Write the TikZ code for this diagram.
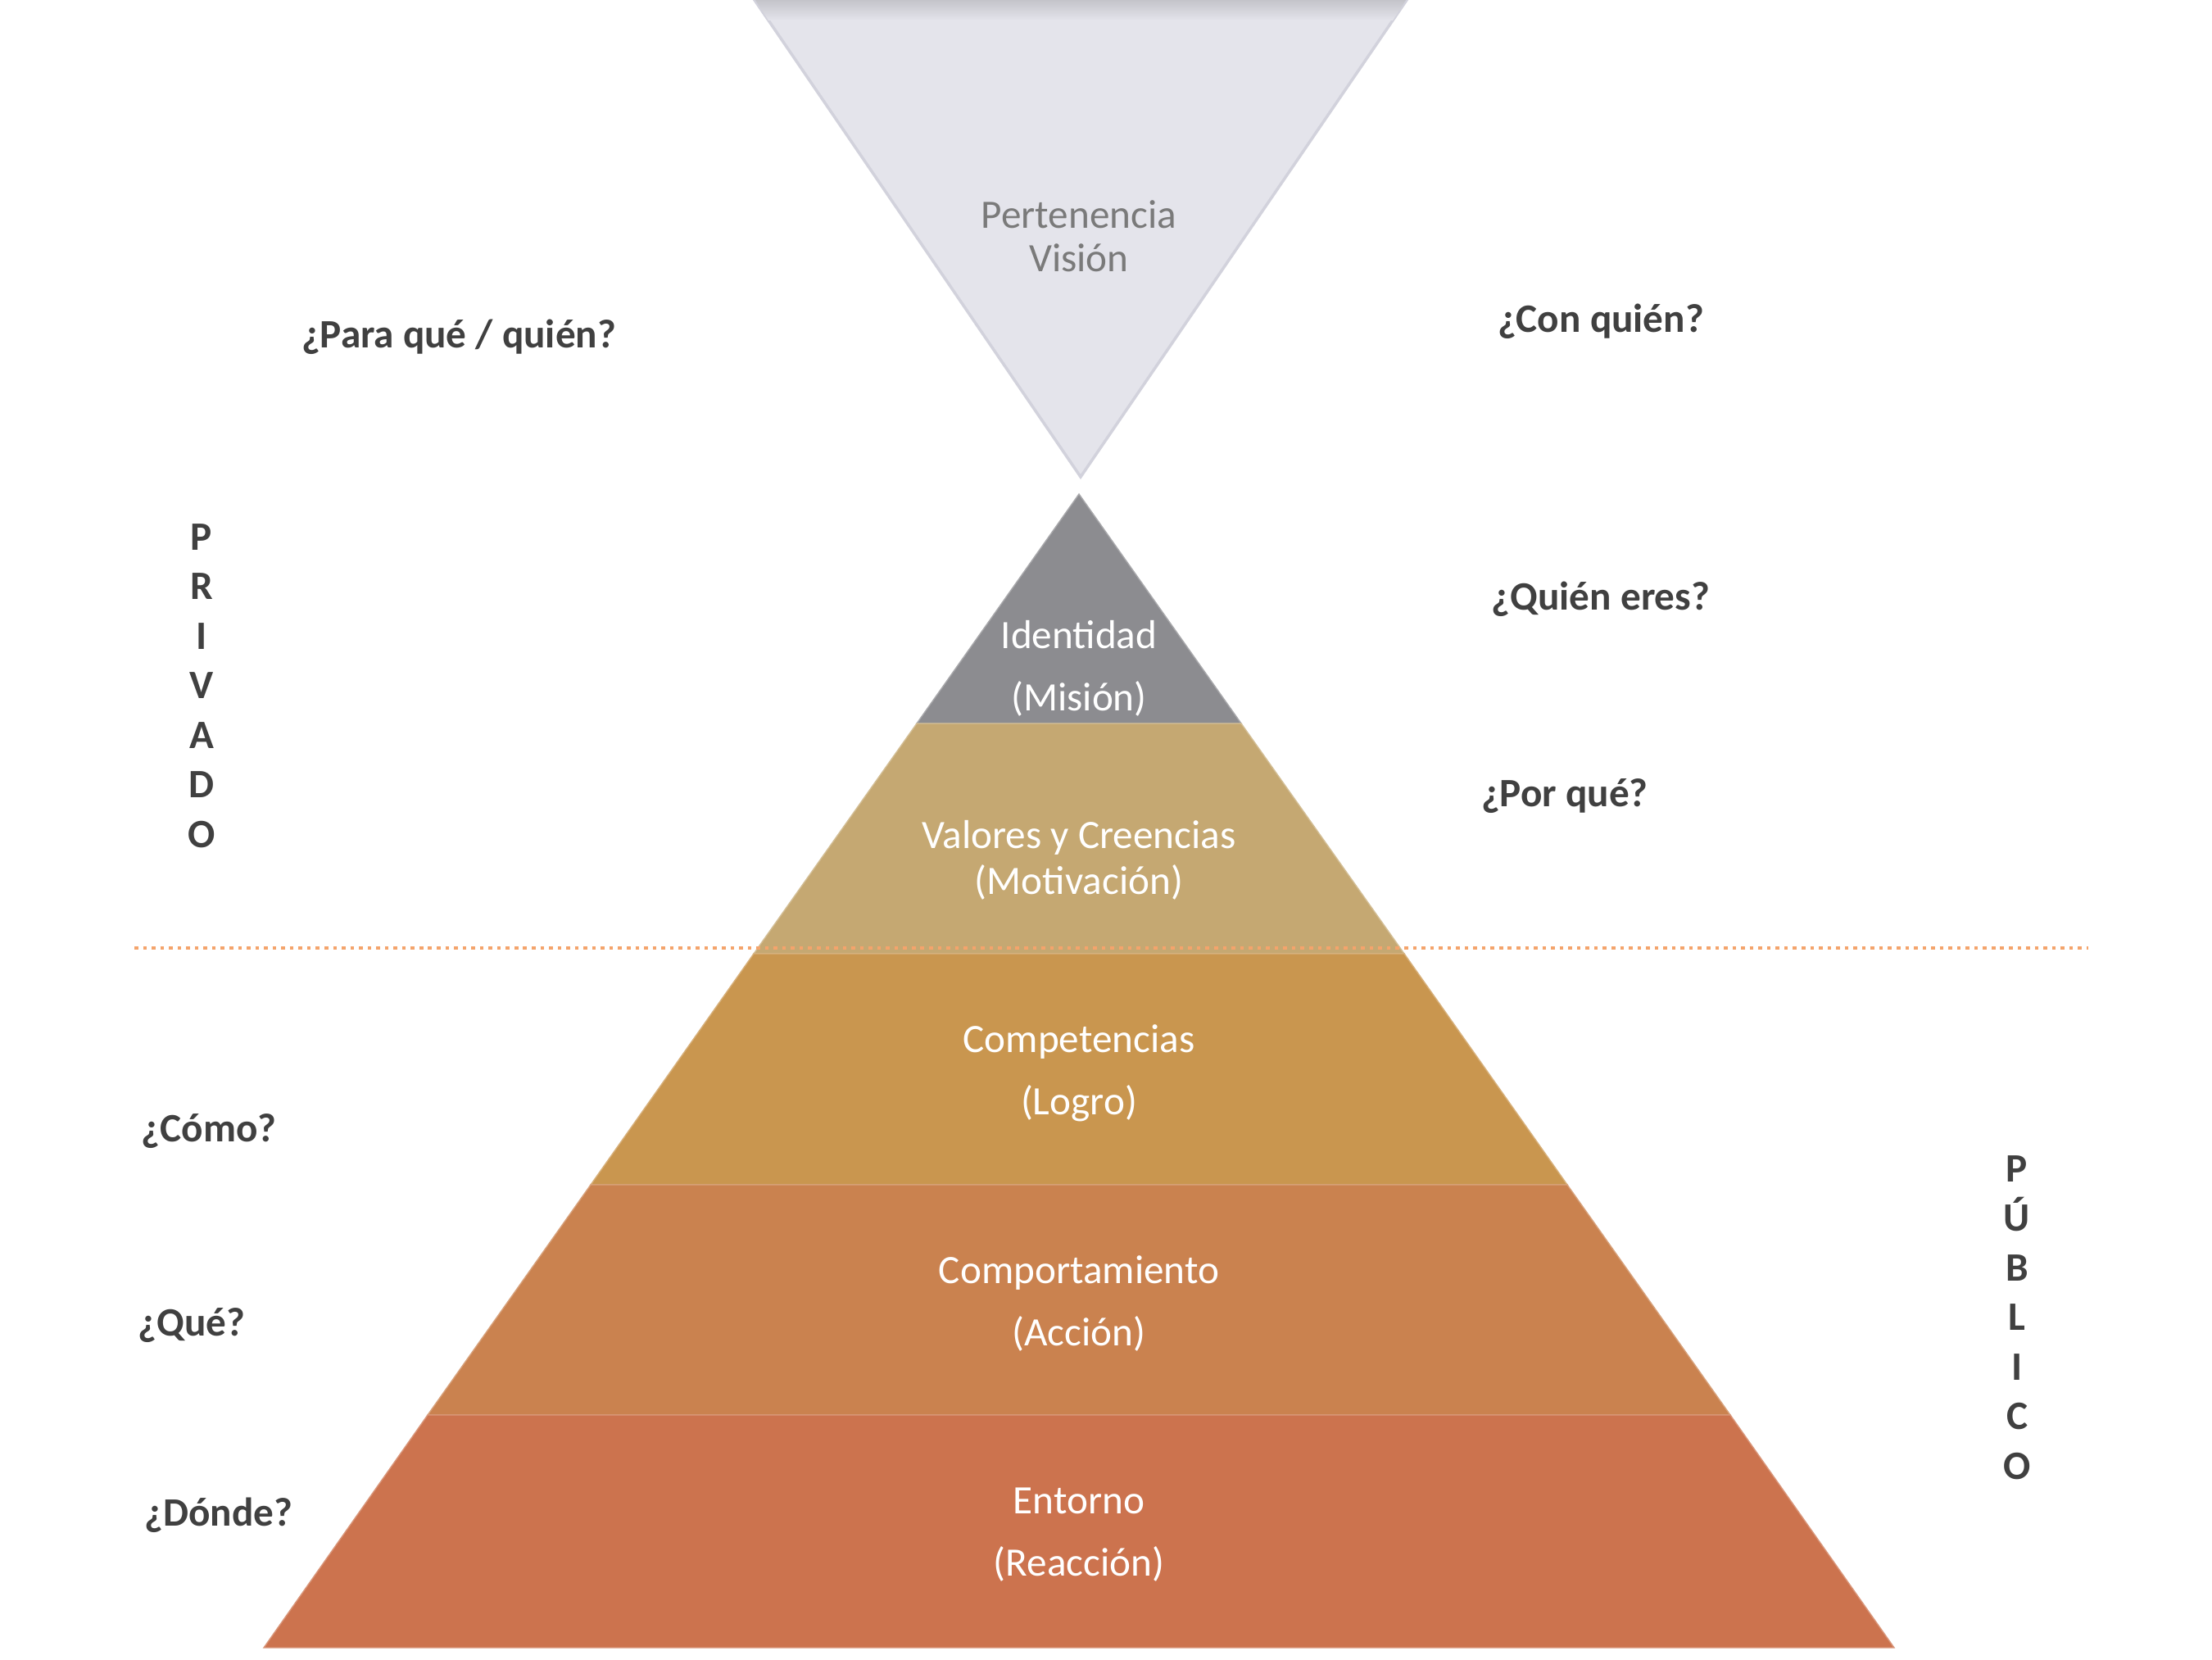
\documentclass[tikz,border=0pt]{standalone}
\usepackage{fontspec}
\setmainfont{Carlito}
\usepackage{tikz}

\definecolor{vision}{HTML}{E4E4EB}
\definecolor{visionedge}{HTML}{D2D2DC}
\definecolor{visiontop}{HTML}{C4C4CA}
\definecolor{visiontext}{HTML}{7A7A7A}
\definecolor{identidadfill}{HTML}{8C8C90}
\definecolor{valoresfill}{HTML}{C5A872}
\definecolor{competfill}{HTML}{C9964F}
\definecolor{comportfill}{HTML}{CA824F}
\definecolor{entornofill}{HTML}{CC734E}
\definecolor{askgrey}{HTML}{404040}
\definecolor{lineorange}{HTML}{F4A46C}

\tikzset{
    question/.style={font=\fontsize{14}{17}\selectfont\bfseries, text=askgrey},
    layertext/.style={font=\fontsize{14}{21.6}\selectfont, text=white, align=center},
    tighttext/.style={font=\fontsize{14}{16}\selectfont, text=white, align=center},
    sideword/.style={font=\fontsize{14}{17.2}\selectfont\bfseries, text=askgrey, align=center},
}

\begin{document}
\begin{tikzpicture}
    \useasboundingbox
        (0,0) rectangle (27,20.25);
    % inverted triangle (vision)
    \filldraw[color=visionedge,fill=vision,line width=1pt]
        (9.21,20.25) -- (17.17,20.25) -- (13.19,14.43) -- cycle;
    \shade[top color=visiontop,bottom color=vision]
        (9.22,20.25) -- (17.16,20.25) -- (17.0,20.0) -- (9.38,20.0) -- cycle;
    \node[tighttext,text=visiontext,font=\fontsize{14}{15}\selectfont] (pertenencia)
        at (13.17,17.37) {Pertenencia\\Visión};
    % pyramid, from the top down
    \filldraw[color=identidadfill!75!white,fill=identidadfill]
        (11.19,11.42) -- (15.15,11.42) -- (13.17,14.22) -- cycle;
    \filldraw[color=valoresfill!75!white,fill=valoresfill]
        (9.20,8.61) -- (17.14,8.61) -- (15.15,11.42) -- (11.19,11.42) -- cycle;
    \filldraw[color=competfill!75!white,fill=competfill]
        (7.21,5.79) -- (19.13,5.79) -- (17.14,8.61) -- (9.20,8.61) -- cycle;
    \filldraw[color=comportfill!75!white,fill=comportfill]
        (5.22,2.98) -- (21.12,2.98) -- (19.13,5.79) -- (7.21,5.79) -- cycle;
    \filldraw[color=entornofill!75!white,fill=entornofill]
        (3.22,0.14) -- (23.12,0.14) -- (21.12,2.98) -- (5.22,2.98) -- cycle;
    \node[layertext] (identidad)
        at (13.17,12.09) {Identidad\\(Misión)};
    \node[tighttext] (valores)
        at (13.17,9.75) {Valores y Creencias\\(Motivación)};
    \node[layertext] (competencias)
        at (13.17,7.15) {Competencias\\(Logro)};
    \node[layertext] (comportamiento)
        at (13.17,4.34) {Comportamiento\\(Acción)};
    \node[layertext] (entorno)
        at (13.17,1.52) {Entorno\\(Reacción)};
    % private / public divider
    \coordinate (divleft) at (1.64,8.68);
    \coordinate (divright) at (25.49,8.68);
    \draw[color=lineorange,line width=1.3pt,dash pattern=on 1.3pt off 1.7pt]
        (divleft) -- (divright);
    % questions
    \node[question] (paraque)
        at (5.60,16.14) {¿Para qué / quién?};
    \node[question] (conquien)
        at (19.54,16.33) {¿Con quién?};
    \node[question] (quieneres)
        at (19.54,12.94) {¿Quién eres?};
    \node[question] (porque)
        at (19.10,10.53) {¿Por qué?};
    \node[question] (como)
        at (2.55,6.44) {¿Cómo?};
    \node[question] (que)
        at (2.34,4.07) {¿Qué?};
    \node[question] (donde)
        at (2.67,1.76) {¿Dónde?};
    \node[sideword] (privado)
        at (2.46,11.88) {P\\R\\I\\V\\A\\D\\O};
    \node[sideword] (publico)
        at (24.62,4.17) {P\\Ú\\B\\L\\I\\C\\O};
\end{tikzpicture}
\end{document}
